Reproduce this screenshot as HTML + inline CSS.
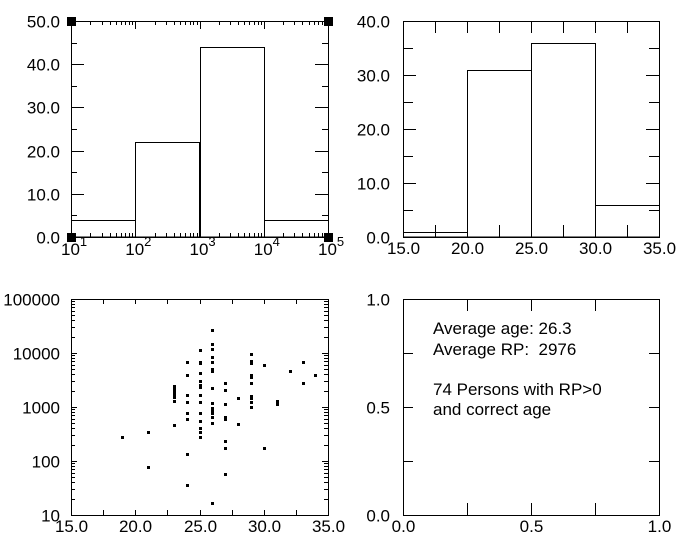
<!DOCTYPE html>
<html><head><style>
html,body{margin:0;padding:0;background:#fff;}
svg text{font-family:"Liberation Sans",sans-serif;font-size:17px;fill:#000;}
</style></head><body>
<svg id="s" width="688" height="550" xmlns="http://www.w3.org/2000/svg" shape-rendering="crispEdges"></svg>
<script>
var s=document.getElementById('s'),h='';
function L(x1,y1,x2,y2){h+='<line x1="'+x1+'" y1="'+y1+'" x2="'+x2+'" y2="'+y2+'" stroke="#000" stroke-width="1"/>';}
function R(x,y,w,hh,f){h+='<rect x="'+x+'" y="'+y+'" width="'+w+'" height="'+hh+'" fill="'+(f||'none')+'" stroke="'+(f?'none':'#000')+'"/>';}
function T(x,y,t,a){h+='<text x="'+x+'" y="'+y+'" text-anchor="'+(a||'middle')+'">'+t+'</text>';}
// Panel 1
var x0=71,x1=328,y0=21,y1=237;
R(x0+.5,y0+.5,x1-x0,y1-y0);
var dw=(x1-x0)/4;
for(var k=0;k<4;k++){for(var m=2;m<10;m++){var xx=Math.round(x0+dw*(k+Math.log10(m)))+.5;L(xx,y0,xx,y0+4);L(xx,y1,xx,y1-4);}
 var xd=Math.round(x0+dw*k)+.5;L(xd,y0,xd,y0+8);L(xd,y1,xd,y1-8);}
for(var v=0;v<=50;v+=5){var yy=Math.round(y1-(y1-y0)*v/50)+.5;var l=(v%10==0)?13:6;L(x0,yy,x0+l,yy);L(x1,yy,x1-l,yy);
 if(v%10==0)T(60,yy+6,v.toFixed(1),'end');}
var hv=[4,22,44,4];
for(var k=0;k<4;k++){var yy=Math.round(y1-(y1-y0)*hv[k]/50)+.5;R(Math.round(x0+dw*k)+.5,yy,Math.round(dw),y1-yy);}
for(var k=0;k<=4;k++){var xx=x0+dw*k;h+='<text x="'+(xx-10)+'" y="255">10<tspan dy="-9" font-size="13">'+(k+1)+'</tspan></text>';}
[[71,21],[328,21],[71,237],[328,237]].forEach(function(p){R(p[0]-4,p[1]-4,9,9,'#000');});
// Panel 2
x0=403;x1=659;
R(x0+.5,y0+.5,x1-x0,y1-y0);
for(var a=15;a<=35;a+=2.5){var xx=Math.round(x0+(x1-x0)*(a-15)/20)+.5;L(xx,y0,xx,y0+12);L(xx,y1,xx,y1-12);if(a%5==0)T(xx,254,a.toFixed(1));}
for(var v=0;v<=40;v+=5){var yy=Math.round(y1-(y1-y0)*v/40)+.5;var l=(v%10==0)?13:10;L(x0,yy,x0+l,yy);L(x1,yy,x1-l,yy);if(v%10==0)T(390,yy+6,v.toFixed(1),'end');}
hv=[1,31,36,6];
for(var k=0;k<4;k++){var yy=Math.round(y1-(y1-y0)*hv[k]/40)+.5;R(Math.round(x0+64*k)+.5,yy,64,y1-yy);}
// Panel 3 scatter
x0=71;x1=328;y0=299;y1=515;
R(x0+.5,y0+.5,x1-x0,y1-y0);
for(var a=15;a<=35;a+=2.5){var xx=Math.round(x0+(x1-x0)*(a-15)/20)+.5;L(xx,y0,xx,y0+5);L(xx,y1,xx,y1-5);if(a%5==0)T(xx,532,a.toFixed(1));}
var dh=(y1-y0)/4,labs=['10','100','1000','10000','100000'];
for(var k=0;k<=4;k++){var yd=Math.round(y1-dh*k)+.5;L(x0,yd,x0+6,yd);L(x1,yd,x1-6,yd);T(60,yd+6,labs[k],'end');
 if(k<4)for(var m=2;m<10;m++){var yy=Math.round(y1-dh*(k+Math.log10(m)))+.5;L(x0,yy,x0+4,yy);L(x1,yy,x1-4,yy);}}
var pts=[[367,472],[445,457],[445,562],[523,437],[523,320],[523,328],[523,336],[523,344],[523,352],[523,365],[563,247],[563,286],[563,346],[563,367],[563,400],[563,418],[563,523],[563,616],[601,211],[601,247],[601,250],[601,280],[601,305],[601,317],[601,321],[601,347],[601,367],[601,400],[601,424],[601,446],[601,458],[601,472],[637,151],[637,192],[637,209],[637,232],[637,247],[637,268],[637,274],[637,325],[637,370],[637,386],[637,393],[637,400],[637,412],[637,430],[637,670],[676,310],[676,331],[676,374],[676,413],[676,418],[676,484],[676,505],[676,583],[714,355],[714,433],[754,223],[754,244],[754,250],[754,286],[754,292],[754,310],[754,349],[754,356],[754,368],[754,381],[792,256],[792,505],[832,364],[832,373],[871,274],[909,247],[909,310],[946,286]];
pts.forEach(function(p){h+='<rect x="'+Math.round(p[0]/3-1.5)+'" y="'+Math.round(280+p[1]/3-1.5)+'" width="3" height="3" fill="#000"/>';});
// Panel 4
x0=403;x1=659;
R(x0+.5,y0+.5,x1-x0,y1-y0);
for(var a=0;a<=1.001;a+=0.25){var xx=Math.round(x0+(x1-x0)*a)+.5;L(xx,y0,xx,y0+12);L(xx,y1,xx,y1-12);
 var yy=Math.round(y1-(y1-y0)*a)+.5;L(x0,yy,x0+10,yy);L(x1,yy,x1-10,yy);
 if(Math.abs(a*2-Math.round(a*2))<1e-6){T(xx,532,a.toFixed(1));T(390,yy+6,a.toFixed(1),'end');}}
h+='<text x="433" y="334" xml:space="preserve">Average age: 26.3</text>';
h+='<text x="433" y="355" xml:space="preserve">Average RP:  2976</text>';
h+='<text x="433" y="395">74 Persons with RP&gt;0</text>';
h+='<text x="433" y="415">and correct age</text>';
s.innerHTML=h;
</script>
</body></html>
